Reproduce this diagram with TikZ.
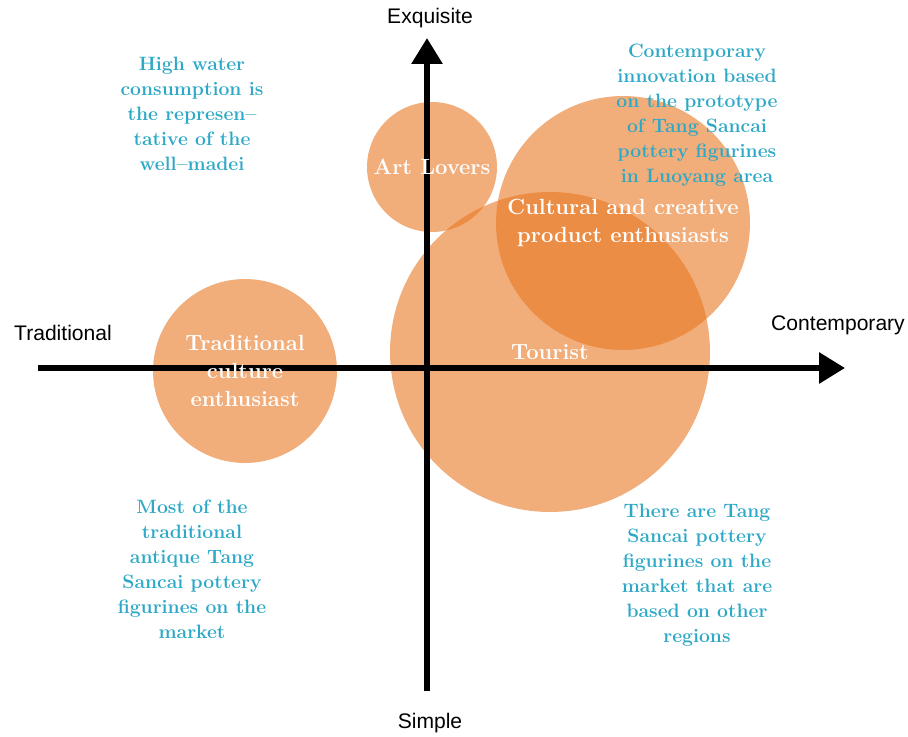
\documentclass[tikz,border=0pt]{standalone}
\usepackage{fontspec}
\newfontfamily\axisfont{Liberation Sans}
\usetikzlibrary{arrows.meta}
\definecolor{bubbleorange}{RGB}{232,119,34}
\definecolor{noteblue}{RGB}{45,168,198}

\begin{document}
\begin{tikzpicture}[x=0.02cm, y=-0.02cm,
    bubble/.style={circle, fill=bubbleorange, fill opacity=0.6, inner sep=0pt},
    bubbletext/.style={text=white, font=\fontsize{12.5}{16}\selectfont\bfseries, align=center},
    note/.style={text=noteblue, font=\fontsize{11}{14.2}\selectfont\bfseries, align=center},
    axislabel/.style={font=\axisfont\fontsize{12}{14}\selectfont},
    axis/.style={line width=3.4pt, -{Triangle[length=0.52cm, width=0.6cm]}}]
        \useasboundingbox (0,0) rectangle (908,736);

        % Customer groups (bubbles)
        \node[bubble, minimum size=6.4cm] (tourist) at (550,352) {};
        \node[bubble, minimum size=5.08cm] (cultural) at (623,223) {};
        \node[bubble, minimum size=2.6cm] (art) at (432,167) {};
        \node[bubble, minimum size=3.68cm] (tradition) at (245,371) {};

        % Axes
        \coordinate (west) at (38,368);
        \coordinate (east) at (845,368);
        \coordinate (south) at (427,691);
        \coordinate (north) at (427,38);
        \draw[axis] (west) -- (east);
        \draw[axis] (south) -- (north);

        \node[axislabel] (exquisite) at (430,18) {Exquisite};
        \node[axislabel] (simple) at (430,723) {Simple};
        \node[axislabel] (traditional) at (63,333) {Traditional};
        \node[axislabel] (contemporary) at (838,325) {Contemporary};

        % Bubble labels
        \node[bubbletext] (touristlabel) at (tourist) {Tourist};
        \node[bubbletext] (culturallabel) at (cultural) {Cultural and creative\\product enthusiasts};
        \node[bubbletext] (artlabel) at (art) {Art Lovers};
        \node[bubbletext] (traditionlabel) at (tradition) {Traditional\\culture\\enthusiast};

        % Quadrant notes
        \node[note] (noteNW) at (192,114) {High water\\consumption is\\the represen--\\tative of the\\well--madei};
        \node[note] (noteNE) at (697,115) {Contemporary\\innovation based\\on the prototype\\of Tang Sancai\\pottery figurines\\in Luoyang area};
        \node[note] (noteSW) at (192,569) {Most of the\\traditional\\antique Tang\\Sancai pottery\\figurines on the\\market};
        \node[note] (noteSE) at (697,575) {There are Tang\\Sancai pottery\\figurines on the\\market that are\\based on other\\regions};
    \end{tikzpicture}
\end{document}
